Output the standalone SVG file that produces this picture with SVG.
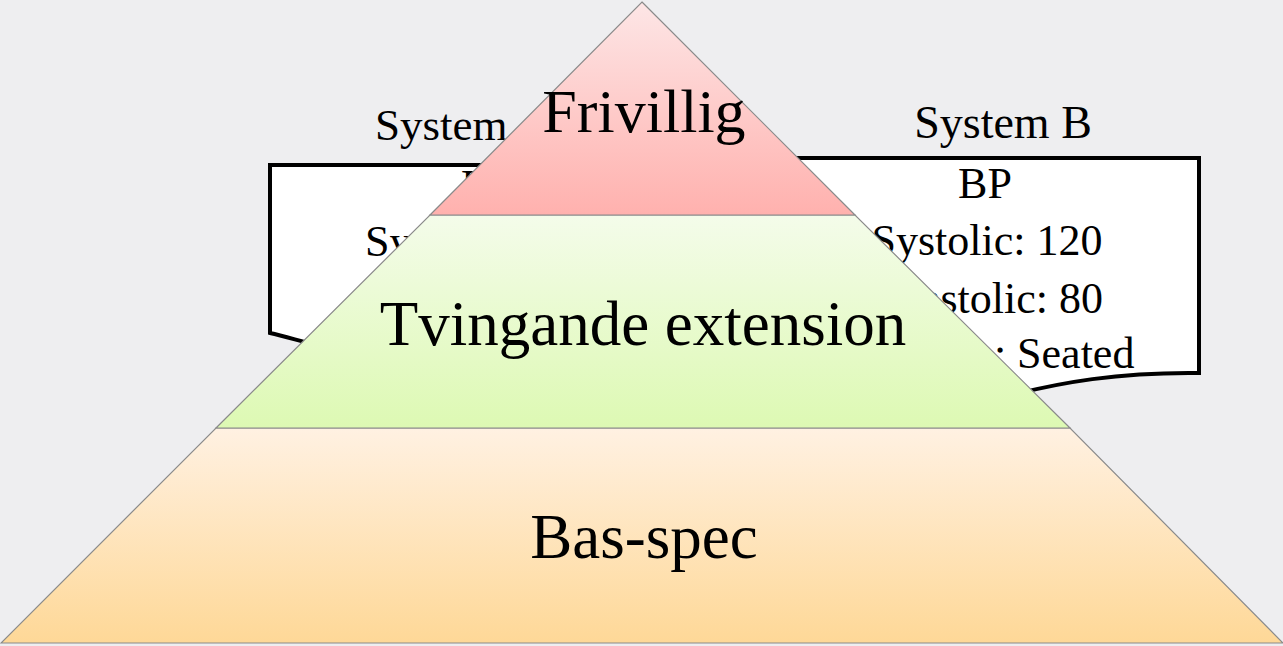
<svg xmlns="http://www.w3.org/2000/svg" width="1283" height="646" viewBox="0 0 1283 646">
  <style>
    .lbl { font-family: "Liberation Serif", "DejaVu Serif", serif; fill: #000; }
    .sys { font-size: 44px; }
    .ttl { font-size: 45px; }
    .big { font-size: 63px; text-anchor: middle; }
    .doc { fill: #fff; stroke: #000; stroke-width: 4; stroke-linejoin: miter; }
    .layer { stroke: #8a8a8a; stroke-width: 1.2; }
  </style>
  <defs>
    <linearGradient id="gRed" x1="0" y1="0" x2="0" y2="1">
      <stop offset="0" stop-color="#fde6e6"/>
      <stop offset="1" stop-color="#ffb1ae"/>
    </linearGradient>
    <linearGradient id="gGreen" x1="0" y1="0" x2="0" y2="1">
      <stop offset="0" stop-color="#f4fcea"/>
      <stop offset="1" stop-color="#ddf9b3"/>
    </linearGradient>
    <linearGradient id="gOrange" x1="0" y1="0" x2="0" y2="1">
      <stop offset="0" stop-color="#fff1e2"/>
      <stop offset="1" stop-color="#fed897"/>
    </linearGradient>
  </defs>
  <rect x="0" y="0" width="1283" height="646" fill="#eeeef0"/>

  <g id="system-a">
    <text class="lbl ttl" x="375" y="140">System<tspan x="526">A</tspan></text>
    <path class="doc" d="M270,165 H672 V335 C600,320 520,330 450,350 C380,368 320,345 270,333 Z"/>
    <text class="lbl sys" x="461" y="200">BP</text>
    <text class="lbl sys" x="365" y="256">Systolic: 120</text>
  </g>

  <g id="system-b">
    <text class="lbl ttl" x="1003" y="138" text-anchor="middle" style="font-size:46px">System B</text>
    <path class="doc" d="M771,158 H1199 V373 C1120,372 1060,382 1000,398 C900,420 820,392 771,380 Z"/>
    <text class="lbl sys" x="985" y="198" text-anchor="middle">BP</text>
    <text class="lbl sys" x="987" y="255" text-anchor="middle">Systolic: 120</text>
    <text class="lbl sys" x="990" y="313" text-anchor="middle">Diastolic: 80</text>
    <text class="lbl sys" x="992" y="368" text-anchor="middle">Position: Seated</text>
  </g>

  <g id="bas-spec">
    <polygon class="layer" points="216,428 1070,428 1283,643 1,643" fill="url(#gOrange)"/>
    <text class="lbl big" x="644" y="558">Bas-spec</text>
  </g>

  <g id="tvingande-extension">
    <polygon class="layer" points="430,215 855,215 1070,428 216,428" fill="url(#gGreen)"/>
    <text class="lbl big" x="643" y="345">Tvingande extension</text>
  </g>

  <g id="frivillig">
    <polygon class="layer" points="642,2 855,215 430,215" fill="url(#gRed)"/>
    <text class="lbl big" x="644" y="132" style="font-size:62px">Frivillig</text>
  </g>
</svg>
